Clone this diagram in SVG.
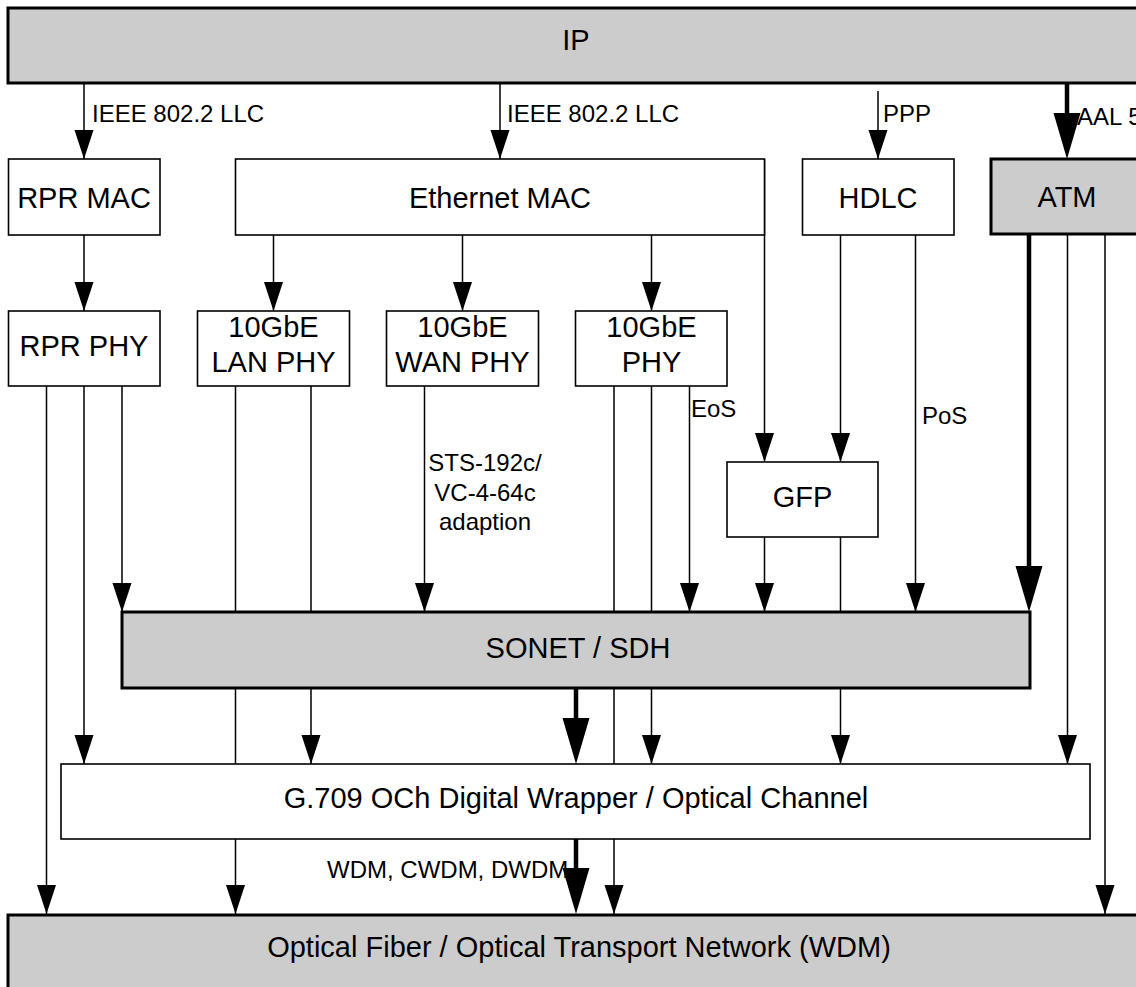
<svg xmlns="http://www.w3.org/2000/svg" width="1136" height="987" viewBox="0 0 1136 987">
<defs>
<style>
.box{fill:#fff;stroke:#000;stroke-width:1.6}
.gbox{fill:#ccc;stroke:#000;stroke-width:3}
.t{font-family:"Liberation Sans",Arial,sans-serif;font-size:29px;text-anchor:middle;fill:#000}
.s{font-family:"Liberation Sans",Arial,sans-serif;font-size:24px;fill:#000}
.ln{stroke:#000;stroke-width:1.5;fill:none}
.a{marker-end:url(#ah)}
.th{stroke:#000;stroke-width:4.5;fill:none;marker-end:url(#ahb)}
</style>
<marker id="ah" markerUnits="userSpaceOnUse" markerWidth="30" markerHeight="20" refX="29" refY="9.5" orient="auto" viewBox="0 0 30 20">
<path d="M0,0 L29,9.5 L0,19 z" fill="#000"/>
</marker>
<marker id="ahb" markerUnits="userSpaceOnUse" markerWidth="48" markerHeight="28" refX="2" refY="13.5" orient="auto" viewBox="0 0 48 28">
<path d="M0,0 L46,13.5 L0,27 z" fill="#000"/>
</marker>
</defs>

<g id="connectors">
<text class="s" x="92" y="122">IEEE 802.2 LLC</text>
<text class="s" x="507" y="122">IEEE 802.2 LLC</text>
<text class="s" x="883" y="122">PPP</text>
<text class="s" x="1077" y="125">AAL 5</text>
<text class="s" x="691" y="417">EoS</text>
<text class="s" x="922" y="424">PoS</text>
<text class="s" x="485" y="471" text-anchor="middle">STS-192c/</text>
<text class="s" x="485" y="501" text-anchor="middle">VC-4-64c</text>
<text class="s" x="485" y="530" text-anchor="middle">adaption</text>
<text class="s" x="327" y="878">WDM, CWDM, DWDM</text>

<!-- IP to layer 2 -->
<line class="ln a" x1="84" y1="83" x2="84" y2="159"/>
<line class="ln a" x1="500" y1="83" x2="500" y2="159"/>
<line class="ln a" x1="878" y1="91" x2="878" y2="159"/>
<line class="th" x1="1067" y1="81" x2="1067" y2="115"/>

<!-- MAC to PHY -->
<line class="ln a" x1="84" y1="235" x2="84" y2="311"/>
<line class="ln a" x1="273.5" y1="235" x2="273.5" y2="311"/>
<line class="ln a" x1="462.5" y1="235" x2="462.5" y2="311"/>
<line class="ln a" x1="651.5" y1="235" x2="651.5" y2="311"/>

<!-- to GFP -->
<line class="ln a" x1="764.5" y1="159" x2="764.5" y2="462"/>
<line class="ln a" x1="840.5" y1="235" x2="840.5" y2="462"/>

<!-- PoS -->
<line class="ln a" x1="915.5" y1="235" x2="915.5" y2="612"/>

<!-- ATM -->
<line class="th" x1="1029" y1="232" x2="1029" y2="568"/>
<line class="ln a" x1="1067.5" y1="235" x2="1067.5" y2="764"/>
<line class="ln a" x1="1105" y1="235" x2="1105" y2="914"/>

<!-- RPR PHY -->
<line class="ln a" x1="46.5" y1="386" x2="46.5" y2="914"/>
<line class="ln a" x1="84" y1="386" x2="84" y2="764"/>
<line class="ln a" x1="122" y1="386" x2="122" y2="612"/>

<!-- LAN PHY -->
<line class="ln a" x1="235.5" y1="386" x2="235.5" y2="914"/>
<line class="ln a" x1="311" y1="386" x2="311" y2="764"/>

<!-- WAN PHY -->
<line class="ln a" x1="424.5" y1="386" x2="424.5" y2="612"/>

<!-- 10GbE PHY -->
<line class="ln a" x1="614" y1="386" x2="614" y2="914"/>
<line class="ln a" x1="651.5" y1="386" x2="651.5" y2="764"/>
<line class="ln a" x1="689.5" y1="386" x2="689.5" y2="612"/>

<!-- GFP -->
<line class="ln a" x1="764.5" y1="537" x2="764.5" y2="612"/>
<line class="ln a" x1="840.5" y1="537" x2="840.5" y2="764"/>

<!-- SONET to G.709 -->
<line class="th" x1="576" y1="686" x2="576" y2="720"/>
<!-- G.709 to fiber -->
<line class="th" x1="576" y1="837" x2="576" y2="870"/>
</g>

<g id="ip"><rect class="gbox" x="8" y="8" width="1140" height="75"/><text class="t" x="576" y="50">IP</text></g>
<g id="rpr-mac"><rect class="box" x="8.5" y="159" width="151.5" height="76"/><text class="t" x="84" y="208">RPR MAC</text></g>
<g id="ethernet-mac"><rect class="box" x="235.5" y="159" width="529" height="76"/><text class="t" x="500" y="208">Ethernet MAC</text></g>
<g id="hdlc"><rect class="box" x="802.5" y="159" width="151.5" height="76"/><text class="t" x="878" y="208">HDLC</text></g>
<g id="atm"><rect class="gbox" x="991" y="159" width="152" height="75"/><text class="t" x="1067" y="207">ATM</text></g>

<g id="rpr-phy"><rect class="box" x="8.5" y="311" width="151.5" height="75"/><text class="t" x="84" y="356">RPR PHY</text></g>
<g id="lan-phy"><rect class="box" x="197.5" y="311" width="152" height="75"/><text class="t" x="273.5" y="337">10GbE</text><text class="t" x="273.5" y="372">LAN PHY</text></g>
<g id="wan-phy"><rect class="box" x="386.5" y="311" width="152" height="75"/><text class="t" x="462.5" y="337">10GbE</text><text class="t" x="462.5" y="372">WAN PHY</text></g>
<g id="phy"><rect class="box" x="575.5" y="311" width="151.5" height="75"/><text class="t" x="651.5" y="337">10GbE</text><text class="t" x="651.5" y="372">PHY</text></g>

<g id="gfp"><rect class="box" x="727" y="462" width="151" height="75"/><text class="t" x="802.5" y="507">GFP</text></g>

<g id="sonet"><rect class="gbox" x="122" y="612" width="908" height="76"/><text class="t" x="578" y="658">SONET / SDH</text></g>

<g id="g709"><rect class="box" x="61" y="764" width="1029" height="75"/><text class="t" x="576" y="808">G.709 OCh Digital Wrapper / Optical Channel</text></g>

<g id="optical"><rect class="gbox" x="8" y="915" width="1140" height="80"/><text class="t" x="579" y="957">Optical Fiber / Optical Transport Network (WDM)</text></g>
</svg>
